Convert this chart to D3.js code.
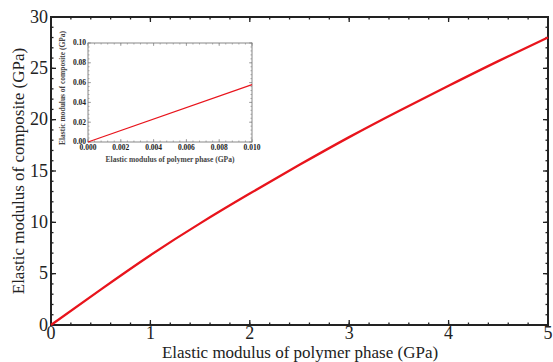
<!DOCTYPE html>
<html>
<head>
<meta charset="utf-8">
<script src="https://cdn.jsdelivr.net/npm/d3@7"></script>
<style>
  body { margin: 0; background: #fff; }
  svg text { font-family: "Liberation Serif", "DejaVu Serif", serif; }
</style>
</head>
<body>
<div id="chart"></div>
<script>
// main curve: elastic modulus of polymer phase vs composite (GPa)
const polymerModulus = [0, 0.5, 1, 1.5, 2, 2.5, 3, 3.5, 4, 4.5, 5];
const compositeModulus = [0, 3.45, 6.8, 9.9, 12.8, 15.6, 18.3, 20.85, 23.3, 25.7, 28.0];

// inset: low-modulus region
const insetPolymer = [0, 0.010];
const insetComposite = [0, 0.058];

const mainXTicks = [0, 1, 2, 3, 4, 5];
const mainYTicks = [0, 5, 10, 15, 20, 25, 30];
const insetXTicks = [0, 0.002, 0.004, 0.006, 0.008, 0.010];
const insetYTicks = [0, 0.02, 0.04, 0.06, 0.08, 0.10];

const width = 553, height = 362;
const svg = d3.select("#chart").append("svg")
    .attr("width", width)
    .attr("height", height);

// draws a framed plot with inward ticks on all four sides
function framedPlot(g, x, y, opts) {
  const [x0, x1] = x.range(), [y0, y1] = y.range();
  const minorX = d3.range(x.domain()[0], x.domain()[1] + 1e-9, opts.minorX);
  const minorY = d3.range(y.domain()[0], y.domain()[1] + 1e-9, opts.minorY);

  const ticks = g.append("g").attr("stroke", opts.frameColor).attr("stroke-width", opts.tickWidth);
  for (const v of opts.xTicks) {
    ticks.append("line").attr("x1", x(v)).attr("x2", x(v)).attr("y1", y0).attr("y2", y0 - opts.major);
    ticks.append("line").attr("x1", x(v)).attr("x2", x(v)).attr("y1", y1).attr("y2", y1 + opts.major);
  }
  for (const v of opts.yTicks) {
    ticks.append("line").attr("y1", y(v)).attr("y2", y(v)).attr("x1", x0).attr("x2", x0 + opts.major);
    ticks.append("line").attr("y1", y(v)).attr("y2", y(v)).attr("x1", x1).attr("x2", x1 - opts.major);
  }
  for (const v of minorX) {
    ticks.append("line").attr("x1", x(v)).attr("x2", x(v)).attr("y1", y0).attr("y2", y0 - opts.minor);
    ticks.append("line").attr("x1", x(v)).attr("x2", x(v)).attr("y1", y1).attr("y2", y1 + opts.minor);
  }
  for (const v of minorY) {
    ticks.append("line").attr("y1", y(v)).attr("y2", y(v)).attr("x1", x0).attr("x2", x0 + opts.minor);
    ticks.append("line").attr("y1", y(v)).attr("y2", y(v)).attr("x1", x1).attr("x2", x1 - opts.minor);
  }

  g.append("rect")
      .attr("x", x0).attr("y", y1)
      .attr("width", x1 - x0).attr("height", y0 - y1)
      .attr("fill", "none")
      .attr("stroke", opts.frameColor)
      .attr("stroke-width", opts.frameWidth);

  g.append("g")
      .attr("font-size", opts.fontSize)
      .attr("font-weight", opts.fontWeight)
      .attr("fill", "#222")
      .attr("text-anchor", "middle")
    .selectAll("text")
    .data(opts.xTicks)
    .join("text")
      .attr("x", d => x(d))
      .attr("y", y0 + opts.xLabelDy)
      .text(opts.xFormat);

  g.append("g")
      .attr("font-size", opts.fontSize)
      .attr("font-weight", opts.fontWeight)
      .attr("fill", "#222")
      .attr("text-anchor", "end")
    .selectAll("text")
    .data(opts.yTicks)
    .join("text")
      .attr("x", x0 - opts.yLabelDx)
      .attr("y", d => y(d))
      .attr("dy", "0.32em")
      .text(opts.yFormat);
}

// main chart
const x = d3.scaleLinear().domain([0, 5]).range([51, 548]);
const y = d3.scaleLinear().domain([0, 30]).range([325, 17]);

const main = svg.append("g");
framedPlot(main, x, y, {
  xTicks: mainXTicks, yTicks: mainYTicks,
  minorX: 0.2, minorY: 1,
  major: 5, minor: 2.5,
  frameColor: "#222", frameWidth: 2, tickWidth: 1.3,
  fontSize: 18, fontWeight: "normal",
  xLabelDy: 14, yLabelDx: 3,
  xFormat: d3.format("d"), yFormat: d3.format("d")
});

const line = d3.line()
    .curve(d3.curveNatural)
    .x((d, i) => x(polymerModulus[i]))
    .y(d => y(d));

main.append("path")
    .datum(compositeModulus)
    .attr("fill", "none")
    .attr("stroke", "#e8141c")
    .attr("stroke-width", 2.3)
    .attr("d", line);

svg.append("text")
    .attr("x", 300).attr("y", 358)
    .attr("text-anchor", "middle")
    .attr("font-size", 17)
    .attr("fill", "#222")
    .text("Elastic modulus of polymer phase (GPa)");

svg.append("text")
    .attr("transform", "translate(24,171) rotate(-90)")
    .attr("text-anchor", "middle")
    .attr("font-size", 17)
    .attr("fill", "#222")
    .text("Elastic modulus of composite (GPa)");

// inset
const ix = d3.scaleLinear().domain([0, 0.010]).range([88, 252]);
const iy = d3.scaleLinear().domain([0, 0.10]).range([142, 43]);

const inset = svg.append("g");
inset.append("rect")
    .attr("x", 88).attr("y", 43).attr("width", 164).attr("height", 99)
    .attr("fill", "#fff");

framedPlot(inset, ix, iy, {
  xTicks: insetXTicks, yTicks: insetYTicks,
  minorX: 0.0004, minorY: 0.004,
  major: 3, minor: 1.5,
  frameColor: "#888", frameWidth: 1, tickWidth: 0.7,
  fontSize: 7.5, fontWeight: "bold",
  xLabelDy: 8, yLabelDx: 2,
  xFormat: d3.format(".3f"), yFormat: d3.format(".2f")
});

inset.append("path")
    .datum(insetComposite)
    .attr("fill", "none")
    .attr("stroke", "#e8141c")
    .attr("stroke-width", 1.2)
    .attr("d", d3.line().x((d, i) => ix(insetPolymer[i])).y(d => iy(d)));

inset.append("text")
    .attr("x", 170).attr("y", 162)
    .attr("text-anchor", "middle")
    .attr("font-size", 7.5)
    .attr("font-weight", "bold")
    .attr("fill", "#444")
    .text("Elastic modulus of polymer phase (GPa)");

inset.append("text")
    .attr("transform", "translate(65,88) rotate(-90)")
    .attr("text-anchor", "middle")
    .attr("font-size", 7.5)
    .attr("font-weight", "bold")
    .attr("fill", "#444")
    .text("Elastic modulus of composite (GPa)");
</script>
</body>
</html>
